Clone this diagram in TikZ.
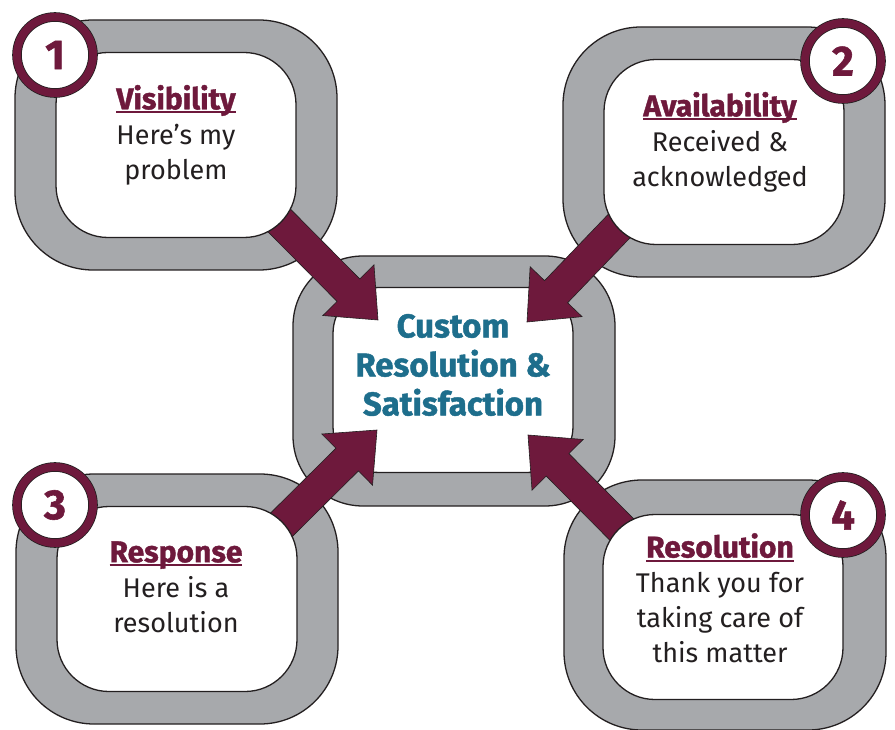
\documentclass[tikz,border=0pt]{standalone}
\usepackage{fontspec}
\setmainfont{Fira Sans}[BoldFeatures={FakeBold=1.3}]
\usepackage{tikz}
\usetikzlibrary{calc, positioning}
\definecolor{wine}{RGB}{110,25,60}
\definecolor{ringgray}{RGB}{167,169,172}
\definecolor{deepteal}{RGB}{30,110,140}
\definecolor{ink}{RGB}{35,31,32}
\tikzset{
  ring/.style={draw=ink, line width=1.3pt, fill=ringgray, rounded corners=78pt,
    minimum width=322pt, minimum height=250pt, inner sep=0pt},
  pane/.style={draw=ink, line width=1.3pt, fill=white, rounded corners=52pt,
    minimum width=240pt, minimum height=185pt, inner sep=0pt},
  words/.style={align=center, text=ink, font=\fontsize{27}{35}\selectfont},
  badge/.style={circle, fill=white, draw=ink, line width=0.8pt, double=wine,
    double distance=8pt, minimum size=76pt, inner sep=0pt, text=wine,
    font=\bfseries\fontsize{42}{42}\selectfont},
  arrowbody/.style={fill=wine, draw=ink, line width=0.6pt, line join=miter}}
\newcommand{\headline}[1]{\textcolor{wine}{\bfseries\fontsize{30}{37}\selectfont
  \setbox0\hbox{#1}\rlap{\rule[-4pt]{\wd0}{1.8pt}}\box0}}
\newcommand{\bigarrow}[2]{%
  \path ($(#2)!42pt!(#1)$) coordinate (h);
  \filldraw[arrowbody] ($(#1)!16pt!90:(#2)$) -- ($(h)!16pt!90:(#2)$)
    -- ($(h)!36pt!90:(#2)$) -- (#2) -- ($(h)!36pt!-90:(#2)$)
    -- ($(h)!16pt!-90:(#2)$) -- ($(#1)!16pt!-90:(#2)$) -- cycle;}

\begin{document}
\begin{tikzpicture}[x=1pt, y=-1pt]
\useasboundingbox (0,0) rectangle (895,730);
\node[ring] (r1) at (176,145) {};
\node[ring] (r2) at (724,152) {};
\node[ring] (r3) at (177,599) {};
\node[ring] (r4) at (725,605) {};
\node[ring, rounded corners=70pt] (rc) at (454,381) {};
\node[pane, rounded corners=46pt] (bc) at (453,380) {};
\coordinate (s1) at (250,191); \coordinate (e1) at (378,320);
\coordinate (s2) at (648,196); \coordinate (e2) at (527,322);
\coordinate (s3) at (255,551); \coordinate (e3) at (377,430);
\coordinate (s4) at (650,558); \coordinate (e4) at (528,435);
\bigarrow{s1}{e1}
\bigarrow{s2}{e2}
\bigarrow{s3}{e3}
\bigarrow{s4}{e4}
\node[pane] (b1) at (176,145) {};
\node[pane] (b2) at (724,152) {};
\node[pane] (b3) at (177,599) {};
\node[pane] (b4) at (723,607) {};
\node[words] (t1) at (176,135) {\headline{Visibility}\\Here’s my\\problem};
\node[words] (t2) at (720,142) {\headline{Availability}\\Received \&\\acknowledged};
\node[words] (t3) at (176,587) {\headline{Response}\\Here is a\\resolution};
\node[words] (t4) at (720,598) {\headline{Resolution}\\Thank you for\\taking care of\\this matter};
\node[align=center, text=deepteal, font=\bfseries\fontsize{33}{39}\selectfont] (tc)
  at (453,365) {Custom\\Resolution \&\\Satisfaction};
\node[badge] (n1) at (55,55) {1};
\node[badge] (n2) at (843,61) {2};
\node[badge] (n3) at (55,505) {3};
\node[badge] (n4) at (843,515) {4};
\end{tikzpicture}
\end{document}
